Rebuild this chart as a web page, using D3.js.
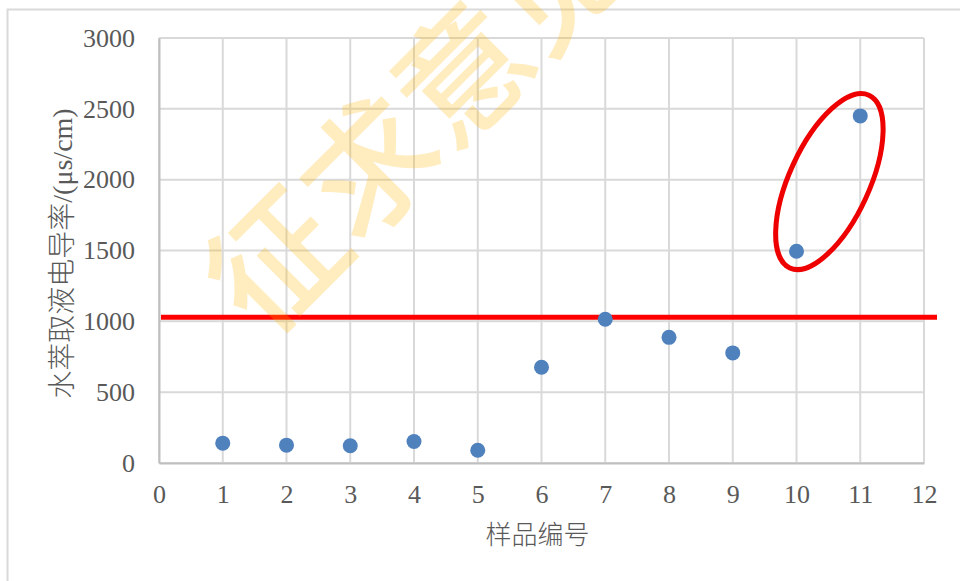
<!DOCTYPE html>
<html>
<head>
<meta charset="utf-8">
<script src="https://cdn.jsdelivr.net/npm/d3@7"></script>
<style>
  html, body { margin: 0; padding: 0; background: #fff; }
  svg { display: block; }
</style>
</head>
<body>
<svg id="chart" width="960" height="581"></svg>
<script>
// Sample numbers and measured conductivity of the water extract
const samples = [1, 2, 3, 4, 5, 6, 7, 8, 9, 10, 11];
const conductivity = [140, 126, 122, 152, 90, 676, 1015, 887, 777, 1495, 2450];
// Reference limit drawn as a horizontal line
const limitValue = 1028;
// Samples singled out by the ellipse
const highlighted = [10, 11];
const xTicks = [0, 1, 2, 3, 4, 5, 6, 7, 8, 9, 10, 11, 12];
const yTicks = [0, 500, 1000, 1500, 2000, 2500, 3000];
const xTitle = "样品编号";
const yTitle = "水萃取液电导率/(μs/cm)";
const watermark = "征求意见";

const svg = d3.select("#chart");
const W = 960, H = 581;
const margin = { left: 159, right: 36, top: 38, bottom: 118 };
const plotW = W - margin.left - margin.right;
const plotH = H - margin.top - margin.bottom;

const x = d3.scaleLinear().domain([0, 12]).range([margin.left, margin.left + plotW]);
const y = d3.scaleLinear().domain([0, 3000]).range([margin.top + plotH, margin.top]);

const serif = "Liberation Serif, DejaVu Serif, serif";
const cjk = "Liberation Serif, Noto Sans CJK SC, serif";
const textColor = "#595959";
const gridColor = "#d9d9d9";

// chart frame
svg.append("rect")
  .attr("x", 7.5).attr("y", 9.5)
  .attr("width", W + 10).attr("height", H + 10)
  .attr("fill", "none").attr("stroke", gridColor).attr("stroke-width", 2);

// gridlines
const grid = svg.append("g");
grid.selectAll("line.v").data(xTicks).join("line")
  .attr("x1", d => x(d)).attr("x2", d => x(d))
  .attr("y1", y(0)).attr("y2", y(3000))
  .attr("stroke", gridColor).attr("stroke-width", 2);
grid.selectAll("line.h").data(yTicks).join("line")
  .attr("x1", x(0)).attr("x2", x(12))
  .attr("y1", d => y(d)).attr("y2", d => y(d))
  .attr("stroke", gridColor).attr("stroke-width", 2);

// axes with labels only
const xAxis = svg.append("g")
  .attr("transform", `translate(0,${y(0)})`)
  .call(d3.axisBottom(x).tickValues(xTicks).tickSize(0).tickPadding(22).tickFormat(d3.format("d")));
xAxis.attr("font-family", null).attr("font-size", null);
xAxis.select(".domain").attr("stroke", "#bfbfbf").attr("stroke-width", 2);
xAxis.selectAll("text").style("font-family", serif).style("font-size", "26px").attr("fill", textColor);

const yAxis = svg.append("g")
  .attr("transform", `translate(${x(0)},0)`)
  .call(d3.axisLeft(y).tickValues(yTicks).tickSize(0).tickPadding(24).tickFormat(d3.format("d")));
yAxis.attr("font-family", null).attr("font-size", null);
yAxis.select(".domain").attr("stroke", "#bfbfbf").attr("stroke-width", 2);
yAxis.selectAll("text").style("font-family", serif).style("font-size", "26px").attr("fill", textColor);

// axis titles
svg.append("text")
  .attr("x", x(6) - 4).attr("y", 544)
  .attr("text-anchor", "middle")
  .style("font-family", cjk).style("font-size", "26px").style("font-weight", 300).attr("fill", textColor)
  .text(xTitle);
svg.append("text")
  .attr("transform", `translate(72,${(y(0) + y(3000)) / 2 + 3}) rotate(-90)`)
  .attr("text-anchor", "middle")
  .style("font-family", cjk).style("font-size", "28px").style("font-weight", 300).attr("fill", textColor)
  .text(yTitle);

// limit line
svg.append("line")
  .attr("x1", x(0) + 2).attr("x2", x(12) + 13)
  .attr("y1", y(limitValue)).attr("y2", y(limitValue))
  .attr("stroke", "#ff0000").attr("stroke-width", 5);

// data points
svg.append("g").selectAll("circle")
  .data(samples.map((s, i) => ({ s, v: conductivity[i] })))
  .join("circle")
  .attr("cx", d => x(d.s)).attr("cy", d => y(d.v))
  .attr("r", 7.5)
  .attr("fill", "#4f81bd");

// ellipse around the highlighted samples
const hp = highlighted.map(s => [x(s), y(conductivity[samples.indexOf(s)])]);
const cx = (hp[0][0] + hp[1][0]) / 2 + 1;
const cy = (hp[0][1] + hp[1][1]) / 2 - 2;
svg.append("ellipse")
  .attr("cx", 0).attr("cy", 0)
  .attr("rx", 95).attr("ry", 40)
  .attr("transform", `translate(${cx},${cy}) rotate(-65.4)`)
  .attr("fill", "none").attr("stroke", "#ee0000").attr("stroke-width", 5);

// watermark
svg.append("text")
  .attr("transform", "translate(270,254) rotate(-45)")
  .attr("x", -66)
  .attr("dominant-baseline", "central")
  .style("font-family", "Noto Sans CJK SC, sans-serif")
  .style("font-size", "132px")
  .style("font-weight", 500)
  .attr("fill", "#ffb400")
  .attr("fill-opacity", 0.25)
  .text(watermark);
</script>
</body>
</html>
